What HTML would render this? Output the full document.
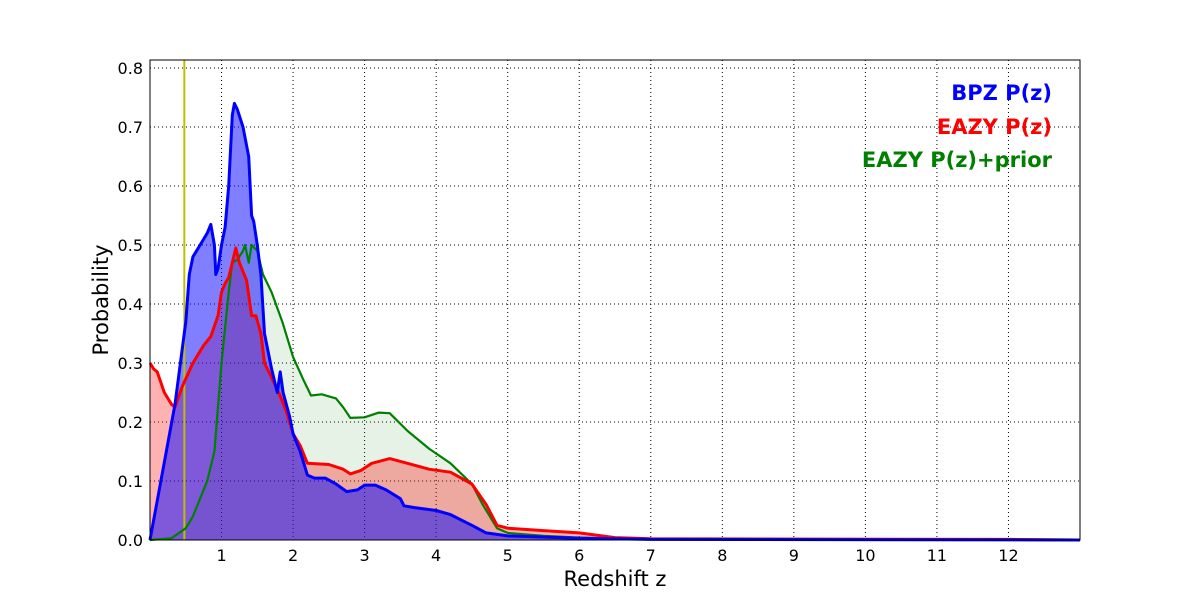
<!DOCTYPE html>
<html><head><meta charset="utf-8"><style>
body{margin:0;background:#fff;font-family:"Liberation Sans","DejaVu Sans",sans-serif}
svg text{font-family:"DejaVu Sans","Liberation Sans",sans-serif}
</style></head><body>
<svg id="chart" width="1200" height="600" xmlns="http://www.w3.org/2000/svg">
<rect width="1200" height="600" fill="#fff"/>
<g id="grid"></g>
<g id="series"></g>
<rect x="150" y="60" width="930" height="480" fill="none" stroke="#000" stroke-width="1"/>
<g id="ticks"></g>
<text x="615" y="586" font-size="21" text-anchor="middle">Redshift z</text>
<text transform="translate(108,300) rotate(-90)" font-size="21" text-anchor="middle">Probability</text>
<g font-weight="bold" font-size="21" text-anchor="end">
<text x="1052" y="100" fill="#0000ff">BPZ P(z)</text>
<text x="1052" y="134" fill="#ff0000">EAZY P(z)</text>
<text x="1052" y="167" fill="#008000">EAZY P(z)+prior</text>
</g>
</svg>
<script>
const xTicks=[1,2,3,4,5,6,7,8,9,10,11,12];
const yTicks=[0.0,0.1,0.2,0.3,0.4,0.5,0.6,0.7,0.8];
const bpzZ=[0,0.35,0.5,0.55,0.6,0.7,0.8,0.85,0.9,0.92,0.95,1.0,1.05,1.1,1.15,1.18,1.22,1.3,1.38,1.42,1.45,1.5,1.55,1.6,1.7,1.78,1.82,1.86,1.95,2.0,2.1,2.2,2.3,2.45,2.6,2.75,2.9,3.0,3.15,3.3,3.5,3.55,3.7,4.0,4.2,4.5,4.7,5.0,6.0,7.0,13];
const bpzP=[0,0.23,0.37,0.45,0.48,0.5,0.52,0.535,0.5,0.45,0.46,0.5,0.53,0.6,0.72,0.74,0.73,0.7,0.65,0.55,0.54,0.5,0.45,0.35,0.29,0.25,0.285,0.25,0.21,0.18,0.15,0.11,0.105,0.105,0.095,0.082,0.085,0.093,0.093,0.085,0.07,0.058,0.055,0.05,0.043,0.025,0.012,0.007,0.003,0.001,0];
const eazyZ=[0,0.05,0.1,0.2,0.3,0.35,0.45,0.6,0.75,0.85,0.95,1.0,1.05,1.1,1.15,1.2,1.25,1.35,1.42,1.48,1.55,1.6,1.8,1.9,2.0,2.1,2.2,2.5,2.7,2.8,2.95,3.1,3.35,3.6,3.9,4.2,4.5,4.7,4.85,5.0,5.5,6.0,6.5,7.0,12,13];
const eazyP=[0.3,0.29,0.285,0.25,0.23,0.225,0.26,0.3,0.33,0.345,0.38,0.42,0.435,0.445,0.47,0.495,0.47,0.44,0.38,0.38,0.35,0.3,0.25,0.22,0.18,0.16,0.13,0.128,0.12,0.112,0.118,0.13,0.138,0.13,0.12,0.115,0.095,0.06,0.025,0.02,0.016,0.012,0.004,0.002,0.001,0];
const priorZ=[0,0.3,0.5,0.6,0.8,0.9,1.0,1.1,1.15,1.22,1.3,1.33,1.38,1.42,1.5,1.58,1.7,1.85,2.0,2.15,2.25,2.4,2.6,2.7,2.8,3.0,3.2,3.35,3.6,3.9,4.2,4.5,4.65,4.85,5.0,5.5,6.0,7.0,13];
const priorP=[0,0.003,0.02,0.04,0.1,0.15,0.3,0.42,0.47,0.475,0.49,0.5,0.47,0.5,0.49,0.45,0.42,0.37,0.31,0.27,0.245,0.247,0.24,0.225,0.207,0.208,0.216,0.215,0.185,0.155,0.13,0.095,0.06,0.02,0.012,0.007,0.004,0.001,0];
const markerZ=0.48;
const NS="http://www.w3.org/2000/svg";
const X0=150,X1=1080,Y0=540,Y1=60,ZMAX=13,PMAX=0.8136;
const sx=z=>X0+z/ZMAX*(X1-X0);
const sy=p=>Y0-p/PMAX*(Y0-Y1);
function mk(tag,attrs,parent){const e=document.createElementNS(NS,tag);for(const k in attrs)e.setAttribute(k,attrs[k]);parent.appendChild(e);return e;}
const grid=document.getElementById('grid'),ticks=document.getElementById('ticks'),ser=document.getElementById('series');
xTicks.forEach(t=>{
 const l=mk('line',{x1:sx(t),x2:sx(t),y1:Y1,y2:Y0,stroke:'#000','stroke-width':1,'stroke-dasharray':'1,3'},grid);
 
 
 const tx=mk('text',{x:sx(t),y:561,'font-size':16,'text-anchor':'middle'},ticks);
 tx.textContent=t;
 
 
});
yTicks.forEach(t=>{
 if(t>0){const l=mk('line',{x1:X0,x2:X1,y1:sy(t),y2:sy(t),stroke:'#000','stroke-width':1,'stroke-dasharray':'1,3'},grid);
 
 }
 const tx=mk('text',{x:143,y:sy(t)+6,'font-size':16,'text-anchor':'end'},ticks);
 tx.textContent=t.toFixed(1);
 
 
});
function pts(zs,ps){return zs.map((z,i)=>sx(z).toFixed(1)+','+sy(ps[i]).toFixed(1)).join(' ');}
function area(zs,ps,col,op,name){
 const p=mk('polygon',{points:sx(zs[0])+','+Y0+' '+pts(zs,ps)+' '+sx(zs[zs.length-1])+','+Y0,fill:col,'fill-opacity':op},ser);
 
 
}
function line(zs,ps,col,w,name){
 const p=mk('polyline',{points:pts(zs,ps),fill:'none',stroke:col,'stroke-width':w,'stroke-linejoin':'round'},ser);
 
 
}
area(priorZ,priorP,'#008000',0.1,'eazy-prior-fill');
area(eazyZ,eazyP,'#ff0000',0.3,'eazy-fill');
area(bpzZ,bpzP,'#0000ff',0.5,'bpz-fill');
const ml=mk('line',{x1:sx(markerZ),x2:sx(markerZ),y1:Y1,y2:Y0,stroke:'#bfbf00','stroke-width':2},ser);


line(priorZ,priorP,'#008000',2.2,'eazy-prior-line');
line(eazyZ,eazyP,'#ff0000',3,'eazy-line');
line(bpzZ,bpzP,'#0000ff',3,'bpz-line');
</script>
</body></html>
